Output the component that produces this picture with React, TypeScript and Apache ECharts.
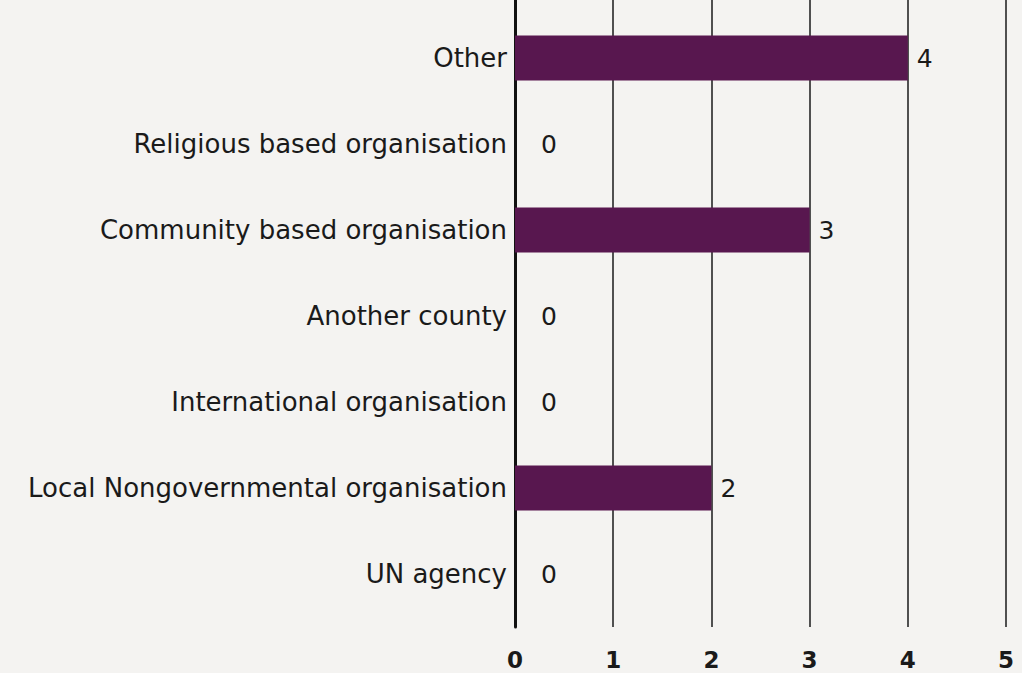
import React, { useEffect, useRef } from "react";
import * as echarts from "echarts";

const categories = [
  "Other",
  "Religious based organisation",
  "Community based organisation",
  "Another county",
  "International organisation",
  "Local Nongovernmental organisation",
  "UN agency",
];
const values = [4, 0, 3, 0, 0, 2, 0];
const axisMin = 0;
const axisMax = 5;
const axisInterval = 1;

export default function App() {
  const ref = useRef<HTMLDivElement>(null);
  useEffect(() => {
    if (!ref.current) return;
    const chart = echarts.init(ref.current, null, { renderer: "svg" });
    const font = "DejaVu Sans";
    chart.setOption({
      animation: false,
      backgroundColor: "#f4f3f1",
      textStyle: { fontFamily: font },
      grid: [
        { left: 515, right: 16, top: 15, bottom: 56 },
        { left: 515, right: 16, top: 0, bottom: 46 },
      ],
      xAxis: [
        {
          gridIndex: 0,
          type: "value",
          min: axisMin,
          max: axisMax,
          interval: axisInterval,
          axisLine: { show: false },
          axisTick: { show: false },
          axisLabel: { show: false },
          splitLine: { show: false },
        },
        {
          gridIndex: 1,
          type: "value",
          min: axisMin,
          max: axisMax,
          interval: axisInterval,
          axisLine: { show: false },
          axisTick: { show: false },
          axisLabel: {
            show: true,
            margin: 21,
            color: "#1a1a1a",
            fontSize: 23,
            fontWeight: "bold",
            fontFamily: font,
          },
          splitLine: { show: true, lineStyle: { color: "#1a1a1a", width: 1.5 } },
        },
      ],
      yAxis: [
        {
          gridIndex: 0,
          type: "category",
          data: categories,
          inverse: true,
          axisLine: { show: false },
          axisTick: { show: false },
          axisLabel: {
            margin: 8,
            color: "#1a1a1a",
            fontSize: 26,
            fontFamily: font,
          },
        },
        {
          gridIndex: 1,
          type: "value",
          min: 0,
          max: 1,
          axisLine: { show: true, lineStyle: { color: "#111", width: 3 } },
          axisTick: { show: false },
          axisLabel: { show: false },
          splitLine: { show: false },
        },
      ],
      series: [
        {
          type: "bar",
          xAxisIndex: 0,
          yAxisIndex: 0,
          barWidth: 45,
          itemStyle: { color: "#58174f" },
          label: {
            show: true,
            position: "right",
            color: "#1a1a1a",
            fontSize: 25,
            fontFamily: font,
          },
          data: values.map((v) => ({
            value: v,
            label: { distance: v === 0 ? 26 : 9 },
          })),
        },
      ],
    });
    return () => chart.dispose();
  }, []);
  return (
    <div
      ref={ref}
      style={{ position: "fixed", left: 0, top: 0, width: 1022, height: 673 }}
    />
  );
}
